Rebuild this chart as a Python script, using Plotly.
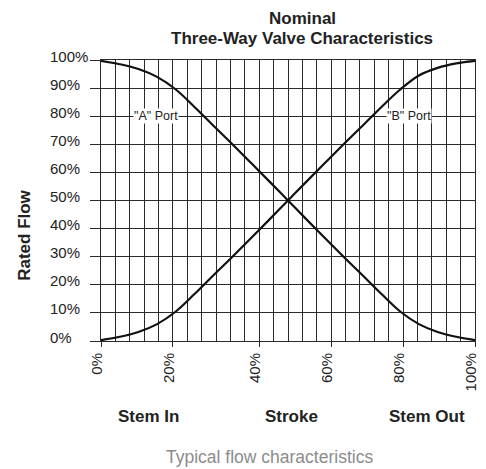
import plotly.graph_objects as go

# Valve stroke position (percent of travel) and rated flow through each port
stroke = [0, 5, 10, 15, 20, 25, 30, 35, 40, 45, 50, 55, 60, 65, 70, 75, 80, 85, 90, 95, 100]
port_a = [99.7, 98.5, 96.8, 94, 89.5, 83.3, 76.7, 70.2, 63.5, 56.8, 50,
          43.2, 36.5, 29.8, 23.3, 16.7, 10.5, 6, 3.2, 1.5, 0.3]
port_b = [0.3, 1.5, 3.2, 6, 10.5, 16.7, 23.3, 29.8, 36.5, 43.2, 50,
          56.8, 63.5, 70.2, 76.7, 83.3, 89.5, 94.5, 97.2, 98.8, 99.7]

# Stroke axis: 26 grid divisions, labelled at selected divisions
grid_divisions = 26
x_label_divisions = [0, 5, 11, 16, 21, 26]
x_tick_text = ["0%", "20%", "40%", "60%", "80%", "100%"]

y_tick_vals = [0, 10, 20, 30, 40, 50, 60, 70, 80, 90, 100]
y_tick_text = ["0%", "10%", "20%", "30%", "40%", "50%", "60%", "70%", "80%", "90%", "100%"]

FONT = "Liberation Sans, Arial, sans-serif"
GRID = "#2a2a2a"

fig = go.Figure()
for name, vals in [("A", port_a), ("B", port_b)]:
    fig.add_trace(go.Scatter(
        x=stroke, y=vals, mode="lines", name=f'"{name}" Port',
        line=dict(color="#111111", width=2.2, shape="spline", smoothing=1.0),
        showlegend=False, hoverinfo="skip", cliponaxis=False,
    ))

step = 100 / grid_divisions
fig.update_xaxes(
    range=[0, 100],
    tickmode="array",
    tickvals=[d * step for d in x_label_divisions],
    ticktext=x_tick_text,
    tickangle=-90,
    ticks="outside", ticklen=5, tickcolor=GRID, tickwidth=1,
    tickfont=dict(family=FONT, size=15, color="#222222"),
    ticklabelshift=-4,
    showgrid=True, gridcolor=GRID, gridwidth=1,
    minor=dict(tickmode="linear", tick0=0, dtick=step, showgrid=True,
               gridcolor=GRID, gridwidth=1, ticks=""),
    showline=True, linecolor=GRID, linewidth=1, mirror=True,
    zeroline=False, fixedrange=True,
)
fig.update_yaxes(
    range=[0, 100],
    tickmode="array", tickvals=y_tick_vals, ticktext=[""] * len(y_tick_vals),
    ticks="outside", ticklen=10, tickcolor=GRID, tickwidth=1.2,
    showgrid=True, gridcolor=GRID, gridwidth=1.2,
    showline=True, linecolor=GRID, linewidth=1, mirror=True,
    zeroline=False, fixedrange=True,
)

annotations = []
# left-aligned flow labels sitting just above each gridline
for v, t in zip(y_tick_vals, y_tick_text):
    annotations.append(dict(
        x=-0.141, xref="paper", y=v, yref="y", text=t, showarrow=False,
        xanchor="left", yanchor="middle", yshift=4,
        font=dict(family=FONT, size=15, color="#222222"),
    ))

# port labels on the 80% line
for xv, t in [(14.7, '"A" Port'), (82.4, '"B" Port')]:
    annotations.append(dict(
        x=xv, xref="x", y=80, yref="y", text=t, showarrow=False,
        xanchor="center", yanchor="middle", bgcolor="white", borderpad=0,
        font=dict(family=FONT, size=12.5, color="#222222"),
    ))

W, H = 486, 469
ML, MR, MT, MB = 101, 7, 60, 128
pw, ph = W - ML - MR, H - MT - MB


def px(x):
    return (x - ML) / pw


def py(y):
    return (H - MB - y) / ph


bold = dict(family=FONT, size=17, color="#222222")
for text, x, y in [("<b>Nominal</b>", 304.5, 18), ("<b>Three-Way Valve Characteristics</b>", 304.5, 38),
                   ("<b>Stem In</b>", 149.5, 416), ("<b>Stroke</b>", 293.3, 416),
                   ("<b>Stem Out</b>", 430, 416)]:
    annotations.append(dict(x=px(x), y=py(y), xref="paper", yref="paper", text=text,
                            showarrow=False, xanchor="center", yanchor="middle", font=bold))

annotations.append(dict(x=px(23), y=py(235), xref="paper", yref="paper", text="<b>Rated Flow</b>",
                        textangle=-90, showarrow=False, xanchor="center", yanchor="middle", font=bold))
annotations.append(dict(x=px(271), y=py(457), xref="paper", yref="paper",
                        text="Typical flow characteristics", showarrow=False,
                        xanchor="center", yanchor="middle",
                        font=dict(family=FONT, size=17.5, color="#8c8c8c")))

fig.update_layout(
    width=W, height=H, autosize=False,
    margin=dict(l=ML, r=MR, t=MT, b=MB),
    paper_bgcolor="white", plot_bgcolor="white",
    annotations=annotations,
)

fig.write_html("out.html")
